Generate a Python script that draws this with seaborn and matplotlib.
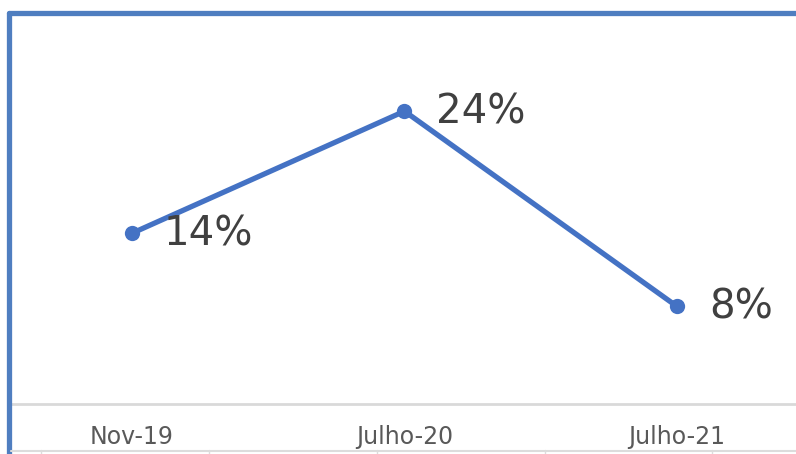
import matplotlib
matplotlib.use("Agg")
import matplotlib.pyplot as plt
from matplotlib.lines import Line2D
import pandas as pd
import seaborn as sns

# Data
periods = ["Nov-19", "Julho-20", "Julho-21"]
share = [14, 24, 8]
labels = ["14%", "24%", "8%"]

df = pd.DataFrame({"Period": periods, "Share": share, "x": range(len(periods))})

sns.set_style("white")
plt.rcParams['font.family'] = ['DejaVu Sans']

W, H = 796, 454
fig = plt.figure(figsize=(W / 100, H / 100), dpi=100)
ax = fig.add_axes([10 / W, 50 / H, 786 / W, 366 / H])

line_color = "#4472C4"
sns.lineplot(data=df, x="x", y="Share", ax=ax, color=line_color, linewidth=3.8,
             marker="o", markersize=11, markeredgewidth=0, legend=False)

# value labels to the right of each point
for i, (v, lab) in enumerate(zip(share, labels)):
    ax.annotate(lab, (i, v), xytext=(23, -1), textcoords="offset points",
                ha="left", va="center", fontsize=29, color="#404040")

# axes styling (Excel-like)
ax.set_xlim(-0.448, 2.437)
ax.set_ylim(0, 30)
ax.set_xticks(range(len(periods)))
ax.set_xticklabels(periods, fontsize=17, color="#595959")
ax.tick_params(axis="x", length=0, pad=15)
ax.set_yticks([])
ax.set_xlabel("")
ax.set_ylabel("")
for s in ["top", "right", "left"]:
    ax.spines[s].set_visible(False)
ax.spines["bottom"].set_color("#d9d9d9")
ax.spines["bottom"].set_linewidth(2)

# chart frame (blue border on top and left)
frame = "#4F7EC0"
fig.add_artist(Line2D([8.5 / W, 8.5 / W], [0, (H - 13) / H], color=frame, lw=3.8,
                      transform=fig.transFigure, solid_capstyle="round"))
fig.add_artist(Line2D([8.5 / W, 1.0], [(H - 13) / H, (H - 13) / H], color=frame, lw=3.8,
                      transform=fig.transFigure, solid_capstyle="round"))

# spreadsheet cell grid peeking at the bottom
grid = "#dcdcdc"
fig.add_artist(Line2D([11 / W, 1.0], [3 / H, 3 / H], color=grid, lw=1.5, transform=fig.transFigure))
for gx in [41, 209, 377, 545, 712]:
    fig.add_artist(Line2D([gx / W, gx / W], [0, 4 / H], color=grid, lw=1, transform=fig.transFigure))

fig.savefig("out.png", dpi=100)
